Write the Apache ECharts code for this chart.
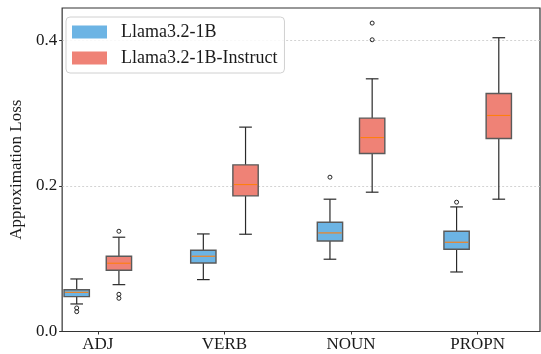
<!DOCTYPE html>
<html>
<head>
<meta charset="utf-8">
<script src="https://cdn.jsdelivr.net/npm/echarts@6/dist/echarts.min.js"></script>
<style>
  html, body { margin: 0; padding: 0; background: #fff; }
  #chart { width: 541px; height: 354px; }
</style>
</head>
<body>
<div id="chart"></div>
<script>
const categories = ['ADJ', 'VERB', 'NOUN', 'PROPN']

// [min, q1, median, q3, max]
const baseStats = [
  [0.0378, 0.0478, 0.0538, 0.0574, 0.0721],
  [0.0712, 0.0941, 0.1033, 0.1115, 0.1339],
  [0.0992, 0.1243, 0.1353, 0.1500, 0.1816],
  [0.0817, 0.1129, 0.1225, 0.1376, 0.1710],
]
const baseOutliers = [[0.0323, 0.0272], [], [0.2118], [0.1775]]

const instructStats = [
  [0.0643, 0.0841, 0.0937, 0.1033, 0.1294],
  [0.1335, 0.1861, 0.2017, 0.2287, 0.2805],
  [0.1912, 0.2443, 0.2662, 0.2928, 0.3468],
  [0.1816, 0.2649, 0.2965, 0.3267, 0.4032],
]
const instructOutliers = [[0.1376, 0.0511, 0.0456], [], [0.4233, 0.4004], []]

const yTicks = [0, 0.2, 0.4]
const yMax = 0.444

const FONT = 'Liberation Serif'
const COLORS = { base: '#6cb4e4', instruct: '#ef8276' }

function boxRenderer(stats, outliers, offset, color) {
  return (params, api) => {
    const i = params.dataIndex
    const band = api.size([1, 0])[0]
    const cx = api.coord([i, 0])[0] + band * offset
    const w = band * 0.2
    const cap = w / 2
    const y = stats[i].map(v => api.coord([i, v])[1])
    const line = { stroke: '#2a2a2a', lineWidth: 1.2 }
    const children = [
      { type: 'line', shape: { x1: cx, y1: y[0], x2: cx, y2: y[1] }, style: line },
      { type: 'line', shape: { x1: cx, y1: y[3], x2: cx, y2: y[4] }, style: line },
      { type: 'line', shape: { x1: cx - cap / 2, y1: y[0], x2: cx + cap / 2, y2: y[0] }, style: line },
      { type: 'line', shape: { x1: cx - cap / 2, y1: y[4], x2: cx + cap / 2, y2: y[4] }, style: line },
      {
        type: 'rect',
        shape: { x: cx - w / 2, y: y[3], width: w, height: y[1] - y[3] },
        style: { fill: color, stroke: '#5a5a5a', lineWidth: 1.4 },
      },
      { type: 'line', shape: { x1: cx - w / 2 + 1, y1: y[2], x2: cx + w / 2 - 1, y2: y[2] }, style: { stroke: '#ff7f0e', lineWidth: 1.1 } },
    ]
    outliers[i].forEach(v => {
      children.push({
        type: 'circle',
        shape: { cx, cy: api.coord([i, v])[1], r: 2 },
        style: { fill: 'none', stroke: '#222', lineWidth: 1 },
      })
    })
    return { type: 'group', children }
  }
}

const chart = echarts.init(document.getElementById('chart'), null, { renderer: 'canvas' })

chart.setOption({
  animation: false,
  textStyle: { fontFamily: FONT },
  grid: [
    { left: 34.5, right: -26.7, top: 8, bottom: 22.5 },
    { left: 56, right: 1, top: 8, bottom: 22.5, show: true, borderColor: '#333', borderWidth: 1.2, backgroundColor: 'transparent' },
  ],
  legend: {
    orient: 'vertical',
    left: 66,
    top: 17,
    padding: [6, 7, 6, 6],
    itemWidth: 35,
    itemHeight: 13,
    itemGap: 8,
    icon: 'rect',
    backgroundColor: 'rgba(255,255,255,0.85)',
    borderColor: '#d0d0d0',
    borderWidth: 1,
    borderRadius: 4,
    textStyle: { fontFamily: FONT, fontSize: 18, color: '#1a1a1a', lineHeight: 18, padding: [0, 0, 0, 9] },
    data: [
      { name: 'Llama3.2-1B', itemStyle: { color: COLORS.base, borderWidth: 0 } },
      { name: 'Llama3.2-1B-Instruct', itemStyle: { color: COLORS.instruct, borderWidth: 0 } },
    ],
  },
  xAxis: [
    {
      type: 'category',
      gridIndex: 0,
      data: categories,
      axisLine: { show: false },
      axisTick: { show: true, alignWithLabel: true, length: 3, lineStyle: { color: '#333' } },
      axisLabel: { fontFamily: FONT, fontSize: 17, color: '#1a1a1a', margin: 5 },
      splitLine: { show: false },
    },
    { type: 'value', gridIndex: 1, show: false, min: 0, max: 1 },
  ],
  yAxis: [
    { type: 'value', gridIndex: 0, show: false, min: 0, max: yMax },
    {
      type: 'value',
      gridIndex: 1,
      min: 0,
      max: yMax,
      interval: 0.2,
      name: 'Approximation Loss',
      nameLocation: 'middle',
      nameGap: 32,
      nameTextStyle: { fontFamily: FONT, fontSize: 17, color: '#1a1a1a' },
      axisLine: { show: false },
      axisTick: { show: true, length: 3, lineStyle: { color: '#333' } },
      axisLabel: {
        fontFamily: FONT, fontSize: 17, color: '#1a1a1a', margin: 5, showMaxLabel: false,
        formatter: v => (yTicks.some(t => Math.abs(t - v) < 1e-9) ? v.toFixed(1) : ''),
      },
      splitLine: {
        show: true, showMinLine: false, showMaxLine: false,
        lineStyle: { color: '#c8c8c8', type: [2, 2], width: 0.8 },
      },
    },
  ],
  series: [
    {
      name: 'Llama3.2-1B',
      type: 'custom',
      xAxisIndex: 0,
      yAxisIndex: 0,
      itemStyle: { color: COLORS.base },
      renderItem: boxRenderer(baseStats, baseOutliers, -1 / 6, COLORS.base),
      data: baseStats.map((s, i) => [i, ...s]),
      encode: { x: 0, y: [1, 2, 3, 4, 5] },
    },
    {
      name: 'Llama3.2-1B-Instruct',
      type: 'custom',
      xAxisIndex: 0,
      yAxisIndex: 0,
      itemStyle: { color: COLORS.instruct },
      renderItem: boxRenderer(instructStats, instructOutliers, 1 / 6, COLORS.instruct),
      data: instructStats.map((s, i) => [i, ...s]),
      encode: { x: 0, y: [1, 2, 3, 4, 5] },
    },
  ],
})

window.addEventListener('resize', () => chart.resize())
</script>
</body>
</html>
